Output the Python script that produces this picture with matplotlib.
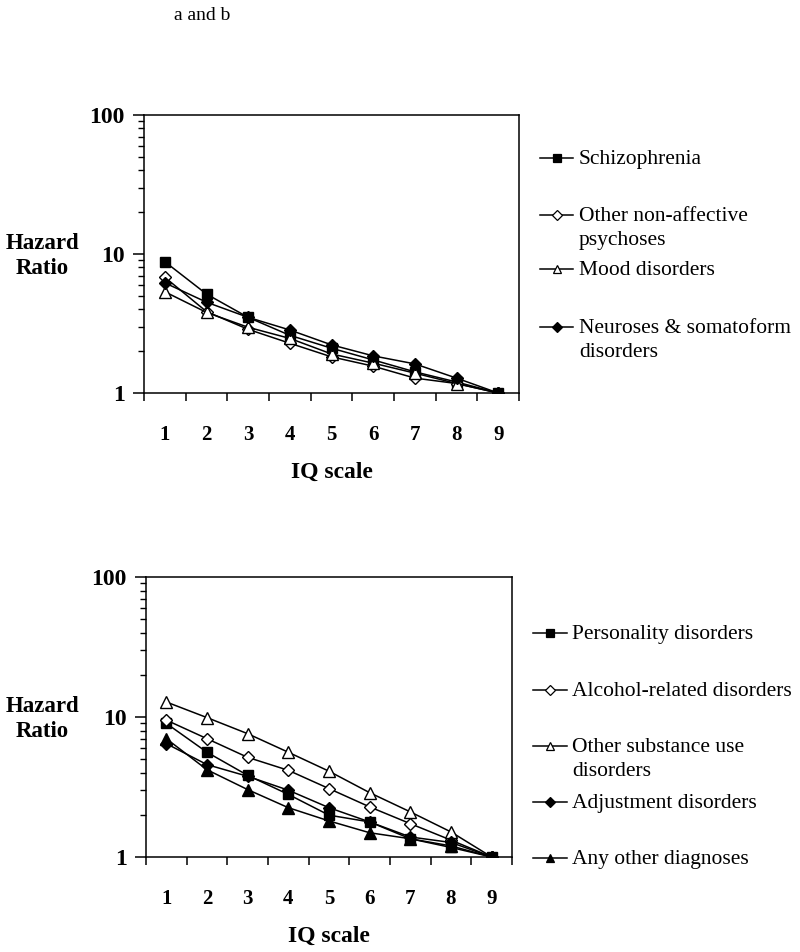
import matplotlib
matplotlib.use("Agg")
import matplotlib.pyplot as plt
from matplotlib.lines import Line2D

plt.rcParams['font.family'] = ['Liberation Serif', 'DejaVu Serif']

iq = [1, 2, 3, 4, 5, 6, 7, 8, 9]

# panel a
schizophrenia = [8.8, 5.15, 3.5, 2.6, 2.1, 1.73, 1.42, 1.2, 1.0]
other_psychoses = [6.8, 3.85, 2.87, 2.28, 1.82, 1.56, 1.28, 1.17, 1.0]
mood = [5.35, 3.8, 2.97, 2.47, 1.91, 1.64, 1.39, 1.17, 1.0]
neuroses = [6.2, 4.5, 3.5, 2.84, 2.22, 1.85, 1.62, 1.28, 1.0]

# panel b
personality = [9.0, 5.6, 3.83, 2.8, 1.99, 1.78, 1.35, 1.17, 1.0]
alcohol = [9.5, 7.0, 5.15, 4.16, 3.08, 2.28, 1.73, 1.32, 1.0]
substance = [12.8, 9.9, 7.6, 5.6, 4.1, 2.88, 2.1, 1.51, 1.0]
adjustment = [6.45, 4.57, 3.77, 3.0, 2.25, 1.78, 1.39, 1.27, 1.0]
any_other = [7.0, 4.2, 3.03, 2.25, 1.81, 1.49, 1.35, 1.2, 1.0]

labels_a = ["Schizophrenia", "Other non-affective\npsychoses", "Mood disorders",
            "Neuroses & somatoform\ndisorders"]
labels_b = ["Personality disorders", "Alcohol-related disorders",
            "Other substance use\ndisorders", "Adjustment disorders", "Any other diagnoses"]

styles = {
    "sq": dict(marker="s", markersize=7.5, markerfacecolor="black"),
    "od": dict(marker="D", markersize=6.5, markerfacecolor="white"),
    "ot": dict(marker="^", markersize=8.5, markerfacecolor="white"),
    "fd": dict(marker="D", markersize=6.5, markerfacecolor="black"),
    "ft": dict(marker="^", markersize=8.5, markerfacecolor="black"),
}

W, H = 800, 952
fig = plt.figure(figsize=(W / 100, H / 100), dpi=100)


def box(l, r, t, b):
    return [l / W, 1 - b / H, (r - l) / W, (b - t) / H]


def setup(ax):
    ax.set_yscale("log")
    ax.set_ylim(1, 100)
    ax.set_xlim(0.5, 9.5)
    # category axis: ticks between categories, labels at the centres
    ax.set_xticks([i + 0.5 for i in range(10)])
    ax.set_xticklabels([])
    ax.set_xticks(iq, minor=True)
    ax.set_xticklabels([str(i) for i in iq], minor=True, fontsize=15, fontweight="bold")
    ax.tick_params(axis="x", which="major", direction="out", length=6, width=1.1)
    ax.tick_params(axis="x", which="minor", length=0, pad=23)
    ax.set_yticks([1, 10, 100])
    ax.set_yticklabels(["1", "10", "100"], fontsize=17, fontweight="bold")
    ax.tick_params(axis="y", which="major", direction="out", length=8, width=1.1, pad=6)
    ax.tick_params(axis="y", which="minor", direction="out", length=4.5, width=1.0)
    ax.yaxis.set_minor_formatter(plt.NullFormatter())
    for s in ax.spines.values():
        s.set_linewidth(1.1)
    ax.set_xlabel("IQ scale", fontsize=17, fontweight="bold", labelpad=12)


def draw_series(ax, series):
    for vals, key in series:
        ax.plot(iq, vals, color="black", lw=1.1, markeredgecolor="black",
                markeredgewidth=1.0, **styles[key])


# legends drawn by hand to keep the Excel-like spacing
def draw_legend(labels, keys, x0, x1, xt, ys):
    for name, key, y in zip(labels, keys, ys):
        st = styles[key]
        yf = 1 - y / H
        fig.add_artist(Line2D([x0 / W, x1 / W], [yf, yf], color="black", lw=1.1))
        fig.add_artist(Line2D([(x0 + x1) / 2 / W], [yf], lw=0, marker=st["marker"],
                              markersize=st["markersize"] * 0.75,
                              markerfacecolor=st["markerfacecolor"],
                              markeredgecolor="black", markeredgewidth=0.9))
        for i, line in enumerate(name.split("\n")):
            fig.text(xt / W, 1 - (y + 6 + 24 * i) / H, line, fontsize=15.5,
                     va="baseline", ha="left")


# panel a
ax1 = fig.add_axes(box(144, 519, 115, 393))
series_a = [(schizophrenia, "sq"), (other_psychoses, "od"), (mood, "ot"), (neuroses, "fd")]
draw_series(ax1, series_a)
setup(ax1)

# panel b
ax2 = fig.add_axes(box(146, 512, 577, 857))
series_b = [(personality, "sq"), (alcohol, "od"), (substance, "ot"),
            (adjustment, "fd"), (any_other, "ft")]
draw_series(ax2, series_b)
setup(ax2)

draw_legend(labels_a, [k for _, k in series_a], 540, 573, 579, [158, 215, 269, 327])
draw_legend(labels_b, [k for _, k in series_b], 533, 567, 572, [633, 690, 746, 802, 858])

fig.text(202 / W, 1 - 15 / H, "a and b", fontsize=14, ha="center", va="center")
fig.text(42 / W, 1 - 256 / H, "Hazard\nRatio", fontsize=16.5, fontweight="bold",
         ha="center", va="center", linespacing=1.3)
fig.text(42 / W, 1 - 719 / H, "Hazard\nRatio", fontsize=16.5, fontweight="bold",
         ha="center", va="center", linespacing=1.3)

fig.savefig("out.png", dpi=100)
